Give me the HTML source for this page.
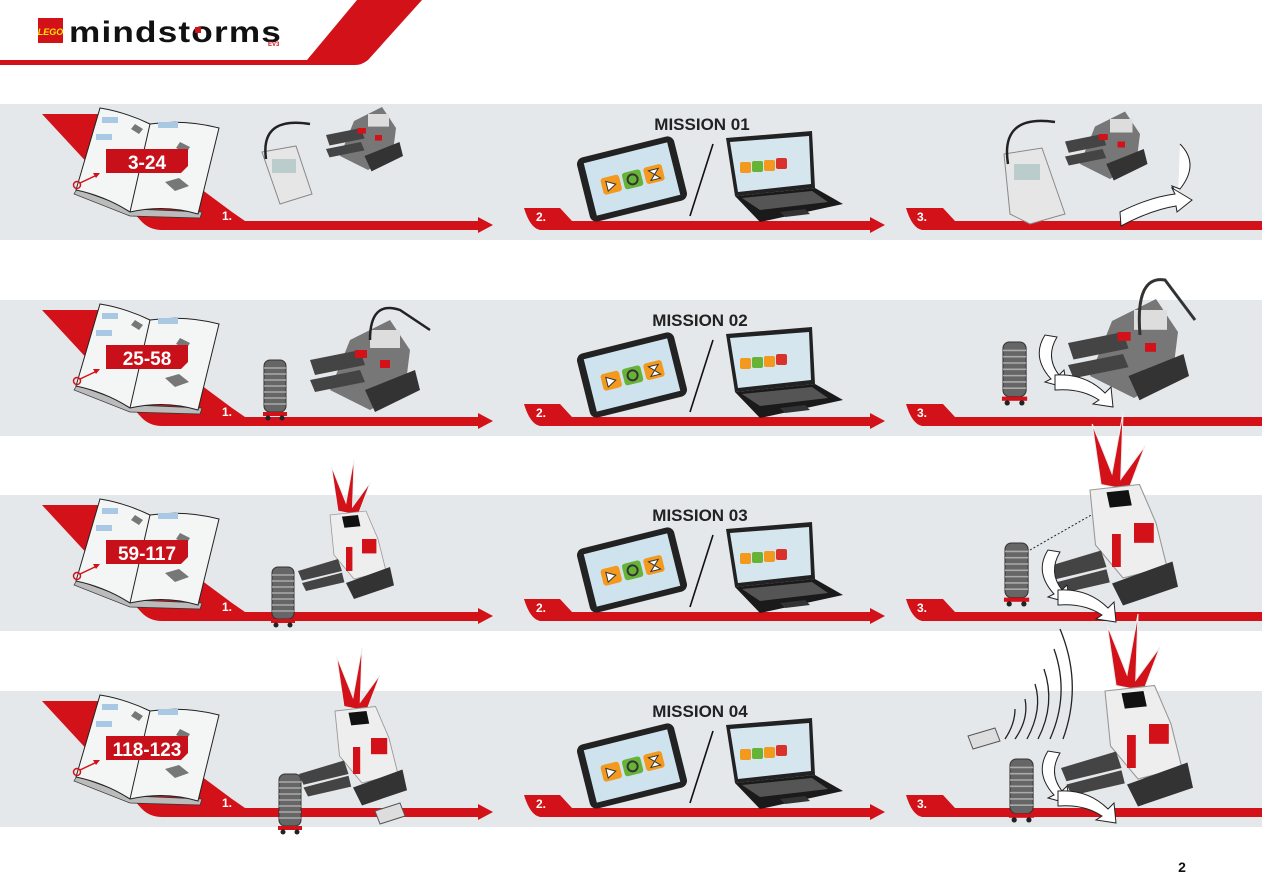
<!DOCTYPE html>
<html><head><meta charset="utf-8"><style>
html,body{margin:0;padding:0;background:#fff;}
svg{display:block;}
text{font-family:"Liberation Sans",sans-serif;font-weight:bold;}
</style></head><body>
<svg width="1262" height="892" viewBox="0 0 1262 892" xmlns="http://www.w3.org/2000/svg">
<defs>
<g id="row">
  <rect x="0" y="0" width="1262" height="136" fill="#e5e8eb"/>
  <path d="M42,10 L100,10 L232,108 L245,117 L478,117 L478,113 L493,121 L478,129 L478,126 L162,126 Q150,126 142,118 Z" fill="#d21118"/>
  <path d="M77,85 L74,90 L130,112 L200,114 L202,108 L132,105 Z" fill="#bbb" stroke="#333" stroke-width="0.7"/>
  <path d="M100,4 Q125,8 150,20 Q185,15 219,24 L198,110 Q165,100 130,108 Q105,92 76,86 Z" fill="#f4f5f5" stroke="#222" stroke-width="1"/>
  <line x1="150" y1="20" x2="130" y2="108" stroke="#222" stroke-width="1"/>
  <rect x="102" y="13" width="16" height="6" fill="#a9c8e3"/>
  <rect x="96" y="30" width="16" height="6" fill="#a9c8e3"/>
  <rect x="158" y="18" width="20" height="6" fill="#a9c8e3"/>
  <path d="M135,20 l8,5 l-4,5 l-8,-5z M180,38 l10,5 l-4,6 l-10,-5z M165,78 l14,-4 l10,8 l-14,5z" fill="#777"/>
  <circle cx="77" cy="81" r="3.5" fill="none" stroke="#d21118" stroke-width="1.5"/>
  <line x1="80" y1="79" x2="97" y2="71" stroke="#d21118" stroke-width="1.5"/>
  <path d="M100,69 l-7,0 l3,5z" fill="#d21118"/>
  <path d="M106,45 L188,45 L188,62 L181,69 L106,69 Z" fill="#c8101a"/>
  <path d="M524,104 L560,104 L572,117 L870,117 L870,113 L885,121 L870,129 L870,126 L540,126 Q530,124 524,104 Z" fill="#d21118"/>
  <path d="M906,104 L943,104 L955,117 L1262,117 L1262,126 L922,126 Q912,124 906,104 Z" fill="#d21118"/>
  <g transform="translate(632,75) rotate(-14)">
    <rect x="-50" y="-33" width="100" height="66" rx="7" fill="#222"/>
    <rect x="-43" y="-27" width="86" height="54" fill="#cfe3ee"/>
    <rect x="-31" y="-8" width="19" height="17" rx="3" fill="#f39a1e"/>
    <rect x="-9" y="-8" width="19" height="17" rx="3" fill="#66b337"/>
    <rect x="13" y="-8" width="19" height="17" rx="3" fill="#f39a1e"/>
    <path d="M-26,-4 l9,5 l-9,5z" fill="#fff" stroke="#333"/>
    <circle cx="0.5" cy="0.5" r="5" fill="none" stroke="#333" stroke-width="2"/>
    <path d="M18,-4 h10 l-10,10 h10z" fill="#fff" stroke="#333"/>
  </g>
  <line x1="690" y1="112" x2="713" y2="40" stroke="#111" stroke-width="1.6"/>
  <path d="M726,34 L812,27 L815,84 L735,92 Z" fill="#222"/>
  <path d="M730,38 L809,32 L811,80 L738,88 Z" fill="#d5e6ef"/>
  <rect x="740" y="58" width="11" height="11" rx="2" fill="#f39a1e"/>
  <rect x="752" y="57" width="11" height="11" rx="2" fill="#66b337"/>
  <rect x="764" y="56" width="11" height="11" rx="2" fill="#f39a1e"/>
  <rect x="776" y="54" width="11" height="11" rx="2" fill="#d9322a"/>
  <path d="M735,92 L815,84 L843,100 L760,118 Z" fill="#1a1a1a"/>
  <path d="M742,94 L812,87 L828,98 L760,106 Z" fill="#555"/>
  <path d="M780,108 L805,105 L810,110 L785,113Z" fill="#333"/>
</g>
<g id="arrows" fill="#fff" stroke="#222" stroke-width="1">
  <path d="M0,0 q-14,22 6,44 l-6,3 l22,6 l-3,-18 l-5,5 q-14,-18 -2,-38z"/>
  <path d="M20,50 q30,-2 50,18 l6,-6 l2,20 l-20,-3 l6,-4 q-18,-12 -44,-10z" transform="translate(-10,-10)"/>
</g>
<g id="tower">
  <rect x="0" y="0" width="22" height="52" rx="6" fill="#666" stroke="#333"/>
  <path d="M0,8 h22 M0,14 h22 M0,20 h22 M0,26 h22 M0,32 h22 M0,38 h22 M0,44 h22" stroke="#aaa" stroke-width="1.5"/>
  <rect x="-1" y="52" width="24" height="4" fill="#d21118"/>
  <circle cx="4" cy="58" r="2.5" fill="#222"/><circle cx="18" cy="58" r="2.5" fill="#222"/>
</g>
<g id="robot">
  <path d="M20,10 L60,-10 L80,20 L75,60 L40,80 L0,60 Z" fill="#777"/>
  <path d="M-20,30 L30,20 L35,35 L-15,45z M-20,50 L30,40 L35,52 L-15,62z" fill="#444"/>
  <path d="M35,60 L85,40 L90,60 L45,82z" fill="#333"/>
  <rect x="25" y="20" width="12" height="8" fill="#d21118"/>
  <rect x="50" y="30" width="10" height="8" fill="#d21118"/>
  <rect x="40" y="0" width="30" height="18" fill="#ddd"/>
</g>
<g id="warrior">
  <path d="M10,-5 L2,-60 L20,-15 L30,-70 L28,-10 L50,-40 L35,0 Z" fill="#d21118" stroke="#eee" stroke-width="1"/>
  <path d="M0,0 L45,-5 L60,30 L70,70 L30,80 L5,50 Z" fill="#eee" stroke="#999"/>
  <path d="M15,2 L35,0 L38,14 L18,16 Z" fill="#111"/>
  <rect x="40" y="30" width="18" height="18" fill="#d21118"/>
  <rect x="20" y="40" width="8" height="30" fill="#d21118"/>
  <path d="M-40,70 L10,55 L15,70 L-35,82z M-35,85 L15,72 L18,84 L-30,95z" fill="#444"/>
  <path d="M20,85 L75,65 L80,88 L30,105z" fill="#333"/>
</g>
</defs>

<path d="M0,60 L307,60 L357,0 L422,0 L368,60 Q362,65 355,65 L0,65 Z" fill="#d21118"/>
<rect x="38" y="18" width="25" height="25" fill="#d21118"/>
<text x="50.5" y="35" font-size="9" fill="#ffe600" text-anchor="middle" font-style="italic">LEGO</text>
<text x="69" y="42" font-size="30" fill="#111" textLength="213" lengthAdjust="spacingAndGlyphs" style="letter-spacing:1px">mindstorms</text>
<rect x="195" y="27" width="6" height="6" fill="#d21118"/>
<text x="268" y="46" font-size="6" fill="#d21118">EV3</text>

<g transform="translate(0,104)"><use href="#row"/>
  <text x="147" y="65" font-size="19" fill="#fff" text-anchor="middle">3-24</text>
  <text x="222" y="116" font-size="12" fill="#fff">1.</text>
  <text x="536" y="117" font-size="12" fill="#fff">2.</text>
  <text x="917" y="117" font-size="12" fill="#fff">3.</text>
  <text x="702" y="26" font-size="17" fill="#222" text-anchor="middle">MISSION 01</text>
  <path d="M262,48 L296,42 L312,90 L280,100 Z" fill="#e6e6e6" stroke="#888"/>
  <rect x="272" y="55" width="24" height="14" fill="#bcc"/>
  <path d="M266,55 Q260,12 310,20" fill="none" stroke="#222" stroke-width="2.5"/>
  <use href="#robot" transform="translate(340,10) scale(0.7)"/>
  <path d="M1004,50 L1042,44 L1065,110 L1030,120 L1010,110 Z" fill="#e6e6e6" stroke="#888"/>
  <rect x="1014" y="60" width="26" height="16" fill="#bcc"/>
  <path d="M1008,60 Q1000,10 1055,18" fill="none" stroke="#222" stroke-width="2.5"/>
  <use href="#robot" transform="translate(1080,15) scale(0.75)"/>
  <path d="M1180,40 q20,20 0,45 l-8,-3 l6,10" fill="#fff" stroke="#222"/>
  <path d="M1120,108 q30,-15 55,-18 l-3,-6 l20,12 l-15,12 l-1,-6 q-25,4 -55,20z" fill="#fff" stroke="#222"/>
</g>

<g transform="translate(0,300)"><use href="#row"/>
  <text x="147" y="65" font-size="19" fill="#fff" text-anchor="middle">25-58</text>
  <text x="222" y="116" font-size="12" fill="#fff">1.</text>
  <text x="536" y="117" font-size="12" fill="#fff">2.</text>
  <text x="917" y="117" font-size="12" fill="#fff">3.</text>
  <text x="700" y="26" font-size="17" fill="#222" text-anchor="middle">MISSION 02</text>
  <use href="#tower" transform="translate(264,60)"/>
  <use href="#robot" transform="translate(330,30) scale(1)"/>
  <path d="M370,40 Q370,0 400,10 L430,30" fill="none" stroke="#222" stroke-width="2.5"/>
  <use href="#tower" transform="translate(1003,42) scale(1.05)"/>
  <use href="#robot" transform="translate(1090,10) scale(1.1)"/>
  <path d="M1140,35 Q1135,-25 1165,-20 L1195,20" fill="none" stroke="#333" stroke-width="3"/>
  <use href="#arrows" transform="translate(1045,35)"/>
</g>

<g transform="translate(0,495)"><use href="#row"/>
  <text x="147" y="65" font-size="19" fill="#fff" text-anchor="middle">59-117</text>
  <text x="222" y="116" font-size="12" fill="#fff">1.</text>
  <text x="536" y="117" font-size="12" fill="#fff">2.</text>
  <text x="917" y="117" font-size="12" fill="#fff">3.</text>
  <text x="700" y="26" font-size="17" fill="#222" text-anchor="middle">MISSION 03</text>
  <use href="#tower" transform="translate(272,72)"/>
  <use href="#warrior" transform="translate(330,20) scale(0.8)"/>
  <use href="#tower" transform="translate(1005,48) scale(1.05)"/>
  <line x1="1030" y1="55" x2="1100" y2="15" stroke="#222" stroke-dasharray="2,2"/>
  <use href="#warrior" transform="translate(1090,-5) scale(1.1)"/>
  <use href="#arrows" transform="translate(1048,55)"/>
</g>

<g transform="translate(0,691)"><use href="#row"/>
  <text x="147" y="65" font-size="19" fill="#fff" text-anchor="middle">118-123</text>
  <text x="222" y="116" font-size="12" fill="#fff">1.</text>
  <text x="536" y="117" font-size="12" fill="#fff">2.</text>
  <text x="917" y="117" font-size="12" fill="#fff">3.</text>
  <text x="700" y="26" font-size="17" fill="#222" text-anchor="middle">MISSION 04</text>
  <use href="#tower" transform="translate(279,83)"/>
  <use href="#warrior" transform="translate(335,20) scale(0.9)"/>
  <path d="M375,120 L400,112 L405,125 L380,133 Z" fill="#ddd" stroke="#555"/>
  <use href="#tower" transform="translate(1010,68) scale(1.05)"/>
  <use href="#warrior" transform="translate(1105,0) scale(1.1)"/>
  <path d="M968,45 L995,37 L1000,50 L973,58 Z" fill="#ddd" stroke="#555"/>
  <g fill="none" stroke="#222" stroke-width="1.3">
    <path d="M1005,48 q10,-15 10,-30"/>
    <path d="M1015,48 q14,-20 10,-40"/>
    <path d="M1027,48 q16,-30 8,-55"/>
    <path d="M1038,48 q18,-35 6,-70"/>
    <path d="M1050,48 q20,-45 4,-90"/>
    <path d="M1063,48 q20,-55 -3,-110"/>
  </g>
  <use href="#arrows" transform="translate(1048,60)"/>
</g>

<text x="1182" y="872" font-size="14" fill="#111" text-anchor="middle">2</text>
</svg>
</body></html>
